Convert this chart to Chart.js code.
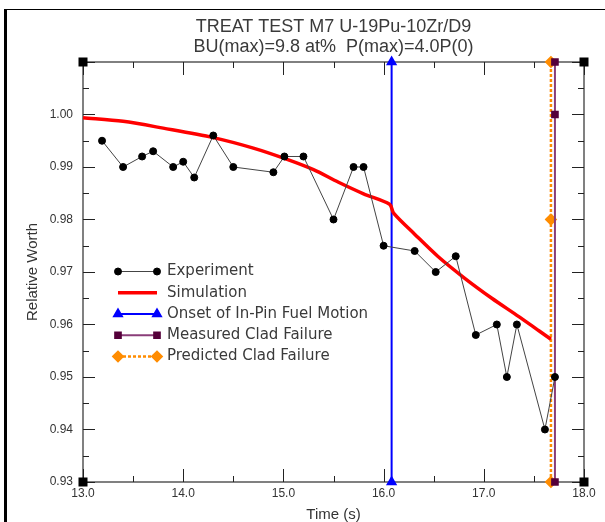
<!DOCTYPE html>
<html>
<head>
<meta charset="utf-8">
<script src="https://cdn.jsdelivr.net/npm/chart.js@4/dist/chart.umd.min.js"></script>
<style>
  html, body { margin: 0; padding: 0; background: #fff; }
</style>
</head>
<body>
<canvas id="worthChart" width="605" height="522"></canvas>
<script>
// --- Data ---
const expTime  = [13.19, 13.40, 13.59, 13.70, 13.90, 14.00, 14.11, 14.30, 14.50, 14.90, 15.01, 15.20,
                  15.50, 15.70, 15.80, 16.00, 16.31, 16.52, 16.72, 16.92, 17.13, 17.23, 17.33, 17.61, 17.71];
const expWorth = [0.995, 0.990, 0.992, 0.993, 0.990, 0.991, 0.988, 0.996, 0.990, 0.989, 0.992, 0.992,
                  0.980, 0.990, 0.990, 0.975, 0.974, 0.970, 0.973, 0.958, 0.960, 0.950, 0.960, 0.940, 0.950];

const simTime  = [13.00, 13.40, 13.80, 14.30, 14.70, 15.03, 15.30, 15.55, 15.80, 16.06, 16.10,
                  16.31, 16.54, 16.81, 17.08, 17.35, 17.55, 17.67];
const simWorth = [0.9994, 0.9987, 0.9974, 0.9956, 0.9936, 0.9915, 0.9895, 0.9871, 0.9849, 0.9829, 0.9812,
                  0.9772, 0.9730, 0.9688, 0.9650, 0.9615, 0.9588, 0.9572];

const onsetTime = 16.08;
const onsetWorth = [0.93, 1.01];
const measuredTime = 17.71;
const measuredWorth = [0.93, 1.00, 1.01];
const predictedTime = 17.67;
const predictedWorth = [0.93, 0.98, 1.01];

const xTickValues = [13, 13.5, 14, 14.5, 15, 15.5, 16, 16.5, 17, 17.5, 18];
const xMajor = [13, 14, 15, 16, 17, 18];
const xTickLabels = ['13.0', '14.0', '15.0', '16.0', '17.0', '18.0'];
const yTickValues = [0.93, 0.935, 0.94, 0.945, 0.95, 0.955, 0.96, 0.965, 0.97, 0.975,
                     0.98, 0.985, 0.99, 0.995, 1.00, 1.005, 1.01];
const yMajor = [0.93, 0.94, 0.95, 0.96, 0.97, 0.98, 0.99, 1.00, 1.01];
const yTickLabels = ['0.93', '0.94', '0.95', '0.96', '0.97', '0.98', '0.99', '1.00', ''];

const toPoints = (xs, ys) => xs.map((x, i) => ({ x: x, y: ys[i] }));
const vertical = (t, ys) => ys.map(y => ({ x: t, y: y }));

// --- Page frame (left and top border) ---
const frame = {
    id: 'frame',
    beforeDraw(chart) {
        const ctx = chart.ctx;
        ctx.save();
        ctx.fillStyle = '#fff';
        ctx.fillRect(0, 0, chart.width, chart.height);
        ctx.fillStyle = '#000';
        ctx.fillRect(4, 10, 3, chart.height - 10);
        ctx.fillRect(4, 9, chart.width - 4, 1);
        ctx.restore();
    }
};

// --- Axis box, inward ticks and corner squares ---
const axisBox = {
    id: 'axisBox',
    beforeDatasetsDraw(chart) {
        const ctx = chart.ctx;
        const { left, right, top, bottom } = chart.chartArea;
        const xs = chart.scales.x, ys = chart.scales.y;
        ctx.save();
        ctx.strokeStyle = '#808080';
        ctx.lineWidth = 2;
        ctx.strokeRect(left, top, right - left, bottom - top);

        ctx.strokeStyle = '#222';
        ctx.lineWidth = 1;
        ctx.beginPath();
        xTickValues.forEach(v => {
            const px = Math.round(xs.getPixelForValue(v)) + 0.5;
            const len = xMajor.includes(v) ? 13 : 6;
            ctx.moveTo(px, bottom); ctx.lineTo(px, bottom - len);
            ctx.moveTo(px, top); ctx.lineTo(px, top + len);
        });
        yTickValues.forEach(v => {
            const py = Math.round(ys.getPixelForValue(v)) + 0.5;
            const len = yMajor.includes(v) ? 12 : 6;
            ctx.moveTo(left, py); ctx.lineTo(left + len, py);
            ctx.moveTo(right, py); ctx.lineTo(right - len, py);
        });
        ctx.stroke();

        ctx.fillStyle = '#000';
        [[left, top], [right, top], [left, bottom], [right, bottom]].forEach(([cx, cy]) => {
            ctx.fillRect(cx - 4.5, cy - 4.5, 9, 9);
        });
        ctx.restore();
    }
};

// --- Legend inside the plot ---
const insideLegend = {
    id: 'insideLegend',
    afterDatasetsDraw(chart) {
        const ctx = chart.ctx;
        const x0 = 118, x1 = 157, tx = 167, y0 = 271.5, dy = 21.25;
        chart.data.datasets.forEach((ds, i) => {
            const y = y0 + i * dy;
            ctx.save();
            ctx.strokeStyle = ds.borderColor;
            ctx.lineWidth = ds.borderWidth;
            ctx.setLineDash(ds.borderDash || []);
            ctx.beginPath();
            ctx.moveTo(x0, y);
            ctx.lineTo(x1, y);
            ctx.stroke();
            ctx.setLineDash([]);
            if (ds.pointRadius > 0) {
                ctx.fillStyle = ds.pointBackgroundColor;
                ctx.strokeStyle = ds.pointBorderColor;
                [x0, x1].forEach(px => {
                    Chart.helpers.drawPoint(ctx, {
                        pointStyle: ds.pointStyle, radius: ds.pointRadius, borderWidth: 1, rotation: 0
                    }, px, y);
                });
            }
            ctx.fillStyle = '#3a3a3a';
            ctx.font = '15px "DejaVu Sans"';
            ctx.textBaseline = 'middle';
            ctx.textAlign = 'left';
            ctx.fillText(ds.label, tx, y);
            ctx.restore();
        });
    }
};

const canvas = document.getElementById('worthChart');
new Chart(canvas.getContext('2d'), {
    type: 'scatter',
    data: {
        datasets: [
            {
                label: 'Experiment',
                data: toPoints(expTime, expWorth),
                showLine: true,
                borderColor: '#444',
                borderWidth: 1,
                pointStyle: 'circle',
                pointRadius: 3.5,
                pointBackgroundColor: '#000',
                pointBorderColor: '#000'
            },
            {
                label: 'Simulation',
                data: toPoints(simTime, simWorth),
                showLine: true,
                borderColor: '#ff0000',
                borderWidth: 3.5,
                tension: 0.3,
                pointRadius: 0
            },
            {
                label: 'Onset of In-Pin Fuel Motion',
                data: vertical(onsetTime, onsetWorth),
                showLine: true,
                borderColor: '#0000ff',
                borderWidth: 2,
                pointStyle: 'triangle',
                pointRadius: 4.5,
                pointBackgroundColor: '#0000ff',
                pointBorderColor: '#0000ff'
            },
            {
                label: 'Measured Clad Failure',
                data: vertical(measuredTime, measuredWorth),
                showLine: true,
                borderColor: '#8a3d78',
                borderWidth: 2,
                pointStyle: 'rect',
                pointRadius: 4,
                pointBackgroundColor: '#55003a',
                pointBorderColor: '#55003a'
            },
            {
                label: 'Predicted Clad Failure',
                data: vertical(predictedTime, predictedWorth),
                showLine: true,
                borderColor: '#ff8c00',
                borderWidth: 2.5,
                borderDash: [3, 2],
                pointStyle: 'rectRot',
                pointRadius: 4.5,
                pointBackgroundColor: '#ff8c00',
                pointBorderColor: '#ff8c00'
            }
        ]
    },
    options: {
        responsive: false,
        devicePixelRatio: 1,
        animation: false,
        events: [],
        clip: false,
        layout: { padding: { top: 17, right: 21, bottom: 0, left: 0 } },
        plugins: {
            legend: { display: false },
            tooltip: { enabled: false },
            title: {
                display: true,
                fullSize: false,
                text: ['TREAT TEST M7 U-19Pu-10Zr/D9', 'BU(max)=9.8 at%  P(max)=4.0P(0)'],
                color: '#3a3a3a',
                font: { family: '"Liberation Sans", sans-serif', size: 18, weight: 'normal', lineHeight: 1.111 },
                padding: { top: 0, bottom: 5 }
            }
        },
        scales: {
            x: {
                type: 'linear',
                min: 13,
                max: 18,
                afterBuildTicks: scale => { scale.ticks = xTickValues.map(v => ({ value: v })); },
                afterFit: scale => { scale.height = 40; },
                grid: { display: false, drawTicks: false },
                border: { display: false },
                ticks: {
                    autoSkip: false,
                    maxRotation: 0,
                    padding: 4,
                    color: '#333',
                    font: { family: '"Liberation Sans", sans-serif', size: 12 },
                    callback: v => { const i = xMajor.indexOf(v); return i >= 0 ? xTickLabels[i] : ''; }
                },
                title: {
                    display: true,
                    text: 'Time (s)',
                    color: '#333',
                    font: { family: '"Liberation Sans", sans-serif', size: 15, lineHeight: 1 },
                    padding: { top: 0, bottom: 0 }
                }
            },
            y: {
                type: 'linear',
                min: 0.93,
                max: 1.01,
                afterBuildTicks: scale => { scale.ticks = yTickValues.map(v => ({ value: v })); },
                afterFit: scale => { scale.width = 83; },
                grid: { display: false, drawTicks: false },
                border: { display: false },
                ticks: {
                    autoSkip: false,
                    padding: 10,
                    color: '#333',
                    font: { family: '"Liberation Sans", sans-serif', size: 12 },
                    callback: v => { const i = yMajor.indexOf(v); return i >= 0 ? yTickLabels[i] : ''; }
                },
                title: {
                    display: true,
                    text: 'Relative Worth',
                    color: '#333',
                    font: { family: '"Liberation Sans", sans-serif', size: 15, lineHeight: 1.2 },
                    padding: { top: 24, bottom: 0 }
                }
            }
        }
    },
    plugins: [frame, axisBox, insideLegend]
});
</script>
</body>
</html>
